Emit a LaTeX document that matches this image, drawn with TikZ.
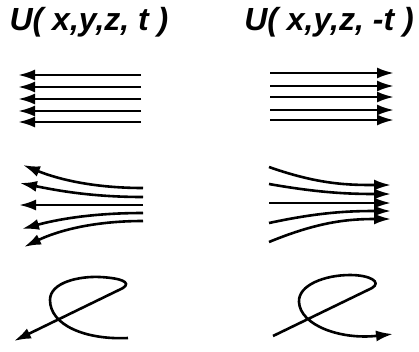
\documentclass[tikz,border=0pt]{standalone}
\usepackage{fontspec}
\setmainfont{Liberation Sans}
\usetikzlibrary{arrows.meta}

\begin{document}
\begin{tikzpicture}[x=1pt,y=-1pt,line width=2.6pt,>={Latex[length=17pt,width=11pt]},
    title/.style={font=\fontsize{32}{36}\selectfont\bfseries\itshape}]

    \useasboundingbox (0,0) rectangle (419,351);

    % ============================================
    % Titles
    % ============================================
    \node[title] (TL) at (89,22) {U( x,y,z, t )};
    \node[title] (TR) at (329,22) {U( x,y,z, -t )};

    % ============================================
    % LEFT SIDE – time t
    % ============================================

    % Parallel flow
    \foreach \y in {75,87,99,111,122}
        \draw[->] (141,\y) -- (18,\y);

    % Diverging flow
    \draw[->] (143,188) .. controls (90,188) and (55,178) .. (23,165);
    \draw[->] (143,197) .. controls (90,197) and (55,190) .. (20,183);
    \draw[->] (143,205) -- (19,205);
    \draw[->] (143,213) .. controls (90,213) and (55,220) .. (22,229);
    \draw[->] (143,221) .. controls (90,221) and (55,232) .. (24,247);

    % Loop
    \coordinate (L1) at (128,338);
    \coordinate (L2) at (50,300);
    \coordinate (L3) at (100,277);
    \coordinate (L4) at (123,288);
    \coordinate (L5) at (14,341);
    \draw[->] (L1) .. controls (85,340) and (50,325) .. (L2)
        .. controls (50,282) and (80,276) .. (L3)
        .. controls (120,278) and (132,282) .. (L4) -- (L5);

    % ============================================
    % RIGHT SIDE – time -t
    % ============================================

    % Parallel flow
    \foreach \y in {73,86,97,110,120}
        \draw[->] (270,\y) -- (394,\y);

    % Converging flow
    \draw[->] (269,167) .. controls (320,185) and (350,185) .. (391,185);
    \draw[->] (269,184) .. controls (320,193) and (350,194) .. (391,194);
    \draw[->] (269,203) -- (391,203);
    \draw[->] (269,223) .. controls (320,212) and (350,211) .. (391,211);
    \draw[->] (269,242) .. controls (320,221) and (350,219) .. (391,219);

    % Loop
    \coordinate (R1) at (273,336);
    \coordinate (R2) at (372,288);
    \coordinate (R3) at (350,275);
    \coordinate (R4) at (299,302);
    \coordinate (R5) at (393,334);
    \draw[->] (R1) -- (R2)
        .. controls (382,282) and (370,275) .. (R3)
        .. controls (325,275) and (298,285) .. (R4)
        .. controls (300,325) and (340,340) .. (R5);

\end{tikzpicture}
\end{document}
